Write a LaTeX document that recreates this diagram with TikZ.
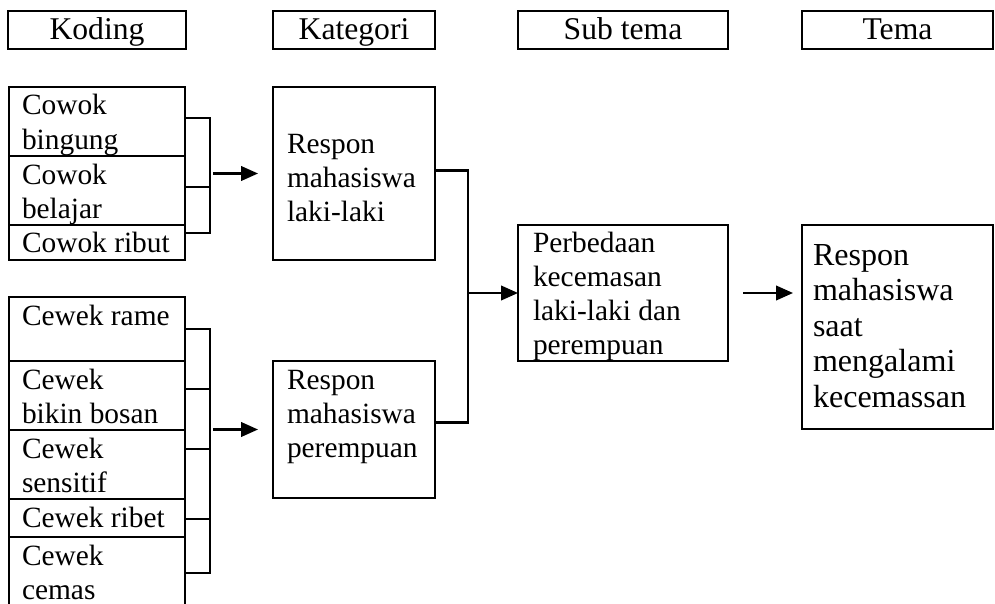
\documentclass[tikz,border=0pt]{standalone}
\usepackage{fontspec}
\setmainfont{Liberation Serif}
\usetikzlibrary{arrows.meta,positioning,calc}
\newlength\px
\setlength\px{0.025cm}
% cell text: [first baseline]{width}{height}{lines}
\newcommand{\celltext}[4][28]{\parbox[c][#3\px][t]{#2\px}{\raggedright\rule{0pt}{#1\px}#4}}

\begin{document}
\begin{tikzpicture}[x=0.025cm,y=-0.025cm,
  head/.style={draw,line width=1.6pt,anchor=north west,inner sep=0pt,outer sep=0pt,
               minimum height=38*\px,text height=17.5pt,text depth=3.5pt,
               font=\fontsize{22.5}{26}\selectfont},
  cell/.style={draw,line width=1.6pt,anchor=north west,inner ysep=0pt,outer sep=0pt,
               inner xsep=#1*\px,font=\fontsize{20.9}{24.2}\selectfont},
  cell/.default=13,
  link/.style={line width=1.6pt},
  arr/.style={-{Triangle[length=0.42cm,width=0.36cm]},line width=1.6pt}]
\useasboundingbox (0,0) rectangle (995,604);
%%
%% Headers
\node[head,minimum width=178*\px] (hkoding)   at (8,11)   {Koding};
\node[head,minimum width=162*\px] (hkategori) at (273,11) {Kategori};
\node[head,minimum width=210*\px] (hsubtema)  at (518,11) {Sub tema};
\node[head,minimum width=191*\px] (htema)     at (802,11) {Tema};
%%
%% Koding: cowok
\node[cell] (cowok1) at (9,87)              {\celltext{150}{69}{Cowok\\bingung}};
\node[cell] (cowok2) at (cowok1.south west) {\celltext{150}{69}{Cowok\\belajar}};
\node[cell] (cowok3) at (cowok2.south west) {\celltext{150}{35}{Cowok ribut}};
%%
%% Koding: cewek
\node[cell] (cewek1) at (9,297)             {\celltext{150}{64}{Cewek rame}};
\node[cell] (cewek2) at (cewek1.south west) {\celltext{150}{69}{Cewek\\bikin bosan}};
\node[cell] (cewek3) at (cewek2.south west) {\celltext{150}{69}{Cewek\\sensitif}};
\node[cell] (cewek4) at (cewek3.south west) {\celltext{150}{38}{Cewek ribet}};
\node[cell] (cewek5) at (cewek4.south west) {\celltext{150}{72}{Cewek\\cemas}};
%%
%% Kategori, sub tema, tema
\node[cell=14] (kat1) at (273,87)  {\celltext[66]{134}{173}{Respon\\mahasiswa\\laki-laki}};
\node[cell=14] (kat2) at (273,361) {\celltext{134}{137}{Respon\\mahasiswa\\perempuan}};
\node[cell=15] (subtema) at (518,225)
  {\celltext[27]{180}{136}{Perbedaan\\kecemasan\\laki-laki dan\\perempuan}};
\node[cell=11,font=\fontsize{22.8}{25.3}\selectfont] (tema) at (802,225)
  {\celltext[40]{169}{204}{Respon\\mahasiswa\\saat\\mengalami\\kecemassan}};
%%
%% Brackets: cowok
\coordinate (bu1) at (210,118);
\coordinate (bu2) at (210,187);
\coordinate (bu3) at (210,233);
\draw[link] (bu1 -| cowok1.east) -- (bu1) -- (bu3) -- (bu3 -| cowok3.east);
\draw[link] (bu2 -| cowok2.east) -- (bu2);
%%
%% Brackets: cewek
\coordinate (bl1) at (210,329);
\coordinate (bl2) at (210,389);
\coordinate (bl3) at (210,449);
\coordinate (bl4) at (210,519);
\coordinate (bl5) at (210,573);
\draw[link] (bl1 -| cewek1.east) -- (bl1) -- (bl5) -- (bl5 -| cewek5.east);
\foreach \i in {2,3,4}
  \draw[link] (bl\i -| cewek\i.east) -- (bl\i);
%%
%% Koding -> kategori
\draw[arr] ($(kat1.west)+(-60,0)$) -- ($(kat1.west)+(-15,0)$);
\draw[arr] ($(kat2.west)+(-60,0)$) -- ($(kat2.west)+(-15,0)$);
%%
%% Kategori -> sub tema
\coordinate (jn) at ($(subtema.west)+(-50,0)$);
\draw[link] ($(kat1.east)+(0,-3)$) -| (jn) |- ($(kat2.east)+(0,-7)$);
\draw[arr] (jn) -- (subtema.west);
%%
%% Sub tema -> tema
\draw[arr] ($(subtema.east)+(15,0)$) -- ($(tema.west |- subtema.east)+(-9,0)$);
\end{tikzpicture}
\end{document}
